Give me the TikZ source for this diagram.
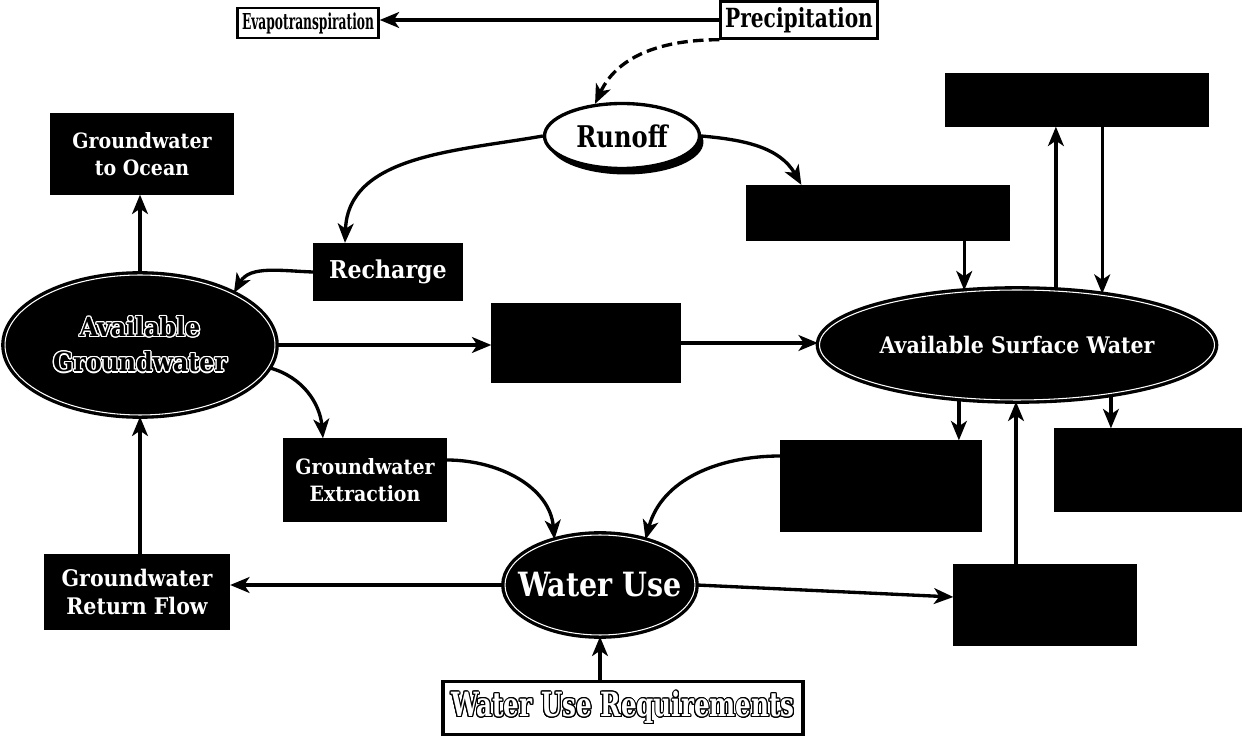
\documentclass[tikz,border=0pt]{standalone}
\usepackage{fontspec}
\usepackage{graphicx}
\usepackage[copies]{contour}
\usetikzlibrary{arrows.meta,shapes.geometric,shadows,calc}
\newfontfamily\lab{DejaVu Serif Condensed}
\newcommand{\cond}[3]{{\lab\bfseries\fontsize{#1}{#1}\selectfont\scalebox{#2}[1]{#3}}}
\contourlength{0.7pt}

\begin{document}
\begin{tikzpicture}[x=0.02cm, y=-0.02cm, line width=1.9pt,
    arr/.style={-{Stealth[length=11pt,width=9pt,inset=3pt]}},
    wbox/.style={draw, fill=white, line width=1.4pt, inner sep=0pt},
    bbox/.style={draw, fill=black, text=white, align=center, inner sep=0pt, font=\lab\bfseries\fontsize{12}{15}\selectfont},
    bell/.style={ellipse, draw, fill=black, text=white, align=center, inner sep=0pt, double=white, double distance=0.6pt}]
    \useasboundingbox (0, 0) rectangle (1252, 736);

    \node[wbox, minimum width=2.82cm, minimum height=0.6cm] (evap) at (308, 23) {\cond{12.5}{0.62}{Evapotranspiration}};
    \node[wbox, minimum width=3.14cm, minimum height=0.74cm] (precip) at (799, 20) {\cond{15}{0.85}{Precipitation}};
    \node[ellipse, draw, fill=white, inner sep=0pt, minimum width=3.1cm, minimum height=1.3cm,
        drop shadow={shadow xshift=0.08cm, shadow yshift=-0.12cm, opacity=1, fill=black}] (runoff) at (622, 136) {\cond{17}{0.9}{Runoff}};

    \node[bbox, minimum width=3.6cm, minimum height=1.56cm] (gw_ocean) at (142, 154) {Groundwater\\to Ocean};
    \node[bbox, minimum width=5.2cm, minimum height=1cm] (sw_top) at (1077, 100) {};
    \node[bbox, minimum width=5.2cm, minimum height=1.06cm] (runoff_sw) at (878, 213) {};
    \node[bbox, minimum width=2.94cm, minimum height=1.1cm, font=\lab\bfseries\fontsize{14}{16}\selectfont] (recharge) at (388, 272) {Recharge};
    \node[bell, text=black, minimum width=5.4cm, minimum height=2.8cm, font=\lab\bfseries\fontsize{15}{20}\selectfont] (avail_gw) at (140, 345)
        {\contour{white}{Available}\\\contour{white}{Groundwater}};
    \node[bbox, minimum width=3.72cm, minimum height=1.54cm] (gw_sw) at (586, 343) {};
    \node[bell, minimum width=7.9cm, minimum height=2.2cm, font=\lab\bfseries\fontsize{13}{15}\selectfont] (avail_sw) at (1017, 345) {Available Surface Water};
    \node[bbox, minimum width=3.2cm, minimum height=1.6cm] (gw_extract) at (365, 480) {Groundwater\\Extraction};
    \node[bbox, minimum width=3.96cm, minimum height=1.76cm] (sw_divert) at (881, 486) {};
    \node[bbox, minimum width=3.68cm, minimum height=1.6cm] (sw_out) at (1148, 470) {};
    \node[bbox, minimum width=3.66cm, minimum height=1.46cm, font=\lab\bfseries\fontsize{13}{16}\selectfont] (gw_return) at (137, 592) {Groundwater\\Return Flow};
    \node[bell, inner xsep=-4mm, minimum width=3.8cm, minimum height=2cm] (water_use) at (600, 585) {\cond{19}{0.95}{Water Use}};
    \node[bbox, minimum width=3.6cm, minimum height=1.56cm] (use_return) at (1045, 605) {};
    \node[wbox, line width=1.8pt, minimum width=7.2cm, minimum height=1.06cm] (wu_req) at (623, 708)
        {\cond{19}{0.82}{\color{white}\contour{black}{Water Use Requirements}}};

    \draw[arr, dash pattern=on 6pt off 3pt] (precip.south west) to[out=180, in=65] (runoff.130);
    \draw[arr] (precip.west) -- (precip.west -| evap.east);
    \draw[arr] (runoff.west) to[out=190, in=88] ($(recharge.north)+(-43, 0)$);
    \draw[arr] (runoff.east) to[out=-5, in=120] ($(runoff_sw.north west)+(55, 0)$);
    \draw[arr] (recharge.west) to[out=178, in=60] (avail_gw.29);
    \draw[arr] (avail_gw.north) -- (avail_gw.north |- gw_ocean.south);
    \draw[arr] (avail_gw.east) -- (avail_gw.east -| gw_sw.west);
    \draw[arr] (gw_sw.east) -- (gw_sw.east -| avail_sw.west);
    \draw[arr] (avail_gw.-10) to[out=-15, in=95] ($(gw_extract.north)+(-42, 0)$);
    \draw[arr] (runoff_sw.south -| avail_sw.134) -- (avail_sw.134);
    \draw[arr] (avail_sw.55) -- (avail_sw.55 |- sw_top.south);
    \draw[arr] (sw_top.south -| avail_sw.31) -- (avail_sw.31);
    \draw[arr] (avail_sw.223) -- (avail_sw.223 |- sw_divert.north);
    \draw[arr] (avail_sw.-28) -- (avail_sw.-28 |- sw_out.north);
    \draw[arr] (use_return.north -| avail_sw.-91) -- (avail_sw.-91);
    \draw[arr] ($(gw_extract.east)+(0, -20)$) to[out=0, in=95] (water_use.135);
    \draw[arr] ($(sw_divert.west)+(0, -30)$) to[out=180, in=75] (water_use.45);
    \draw[arr] (water_use.west) -- (water_use.west -| gw_return.east);
    \draw[arr] (water_use.east) -- ($(use_return.west)+(0, -8)$);
    \draw[arr] (gw_return.north -| avail_gw.south) -- (avail_gw.south);
    \draw[arr] (water_use.south |- wu_req.north) -- (water_use.south);
\end{tikzpicture}
\end{document}
